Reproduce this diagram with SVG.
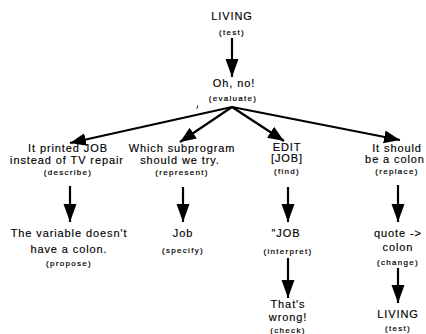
<svg xmlns="http://www.w3.org/2000/svg" width="426" height="334" viewBox="0 0 426 334">
  <style>
    .t { font-family: "Liberation Sans", Arial, sans-serif; font-size: 11px; letter-spacing: 0.9px; fill: #000; stroke: #000; stroke-width: 0.15; text-anchor: middle; }
    .s { font-family: "Liberation Sans", Arial, sans-serif; font-size: 8px; letter-spacing: 1.3px; fill: #000; stroke: #000; stroke-width: 0.2; text-anchor: middle; }
    .e { fill: none; stroke: #000; stroke-width: 2.2; marker-end: url(#head); }
    .v { fill: none; stroke: #000; stroke-width: 2.2; marker-end: url(#vhead); }
  </style>
  <defs>
    <!-- head for the slanted branches -->
    <marker id="head" markerUnits="userSpaceOnUse" markerWidth="18" markerHeight="14" refX="16" refY="6.5" orient="auto">
      <path d="M0,0 L16,6.5 L0,13 Z" fill="#000"/>
    </marker>
    <!-- longer head for the vertical steps -->
    <marker id="vhead" markerUnits="userSpaceOnUse" markerWidth="20" markerHeight="14" refX="18" refY="6.5" orient="auto">
      <path d="M0,0 L18,6.5 L0,13 Z" fill="#000"/>
    </marker>
  </defs>
  <rect width="426" height="334" fill="#fff"/>

  <g id="connectors">
    <line class="v" x1="232" y1="38" x2="232" y2="77"/>
    <line class="e" x1="232" y1="107" x2="70" y2="143"/>
    <line class="e" x1="232" y1="107" x2="180" y2="142"/>
    <line class="e" x1="232" y1="107" x2="284" y2="141"/>
    <line class="e" x1="232" y1="107" x2="400" y2="140"/>
    <line class="v" x1="70" y1="186" x2="70" y2="222"/>
    <line class="v" x1="183" y1="187" x2="183" y2="222"/>
    <line class="v" x1="288" y1="187" x2="288" y2="222"/>
    <line class="v" x1="398" y1="185" x2="398" y2="222"/>
    <line class="v" x1="288" y1="258" x2="288" y2="298"/>
    <line class="v" x1="398" y1="268" x2="398" y2="303"/>
  </g>

  <!-- small speck left of the hub -->
  <path d="M197.5,105.5 q1,1 -0.8,3" fill="none" stroke="#000" stroke-width="1"/>

  <g id="living-top">
    <text class="t" x="232" y="20">LIVING</text>
    <text class="s" x="232" y="35">(test)</text>
  </g>
  <g id="oh-no">
    <text class="t" x="234" y="87">Oh, no!</text>
    <text class="s" x="233" y="101">(evaluate)</text>
  </g>

  <g id="describe">
    <text class="t" x="68" y="152">It printed JOB</text>
    <text class="t" x="67" y="164">instead of TV repair</text>
    <text class="s" x="68" y="175">(describe)</text>
  </g>
  <g id="represent">
    <text class="t" x="182" y="152">Which subprogram</text>
    <text class="t" x="180" y="164">should we try.</text>
    <text class="s" x="182" y="175">(represent)</text>
  </g>
  <g id="find">
    <text class="t" x="287" y="151">EDIT</text>
    <text class="t" x="287" y="162">[JOB]</text>
    <text class="s" x="287" y="174">(find)</text>
  </g>
  <g id="replace">
    <text class="t" x="397" y="152">It should</text>
    <text class="t" x="395" y="163">be a colon</text>
    <text class="s" x="397" y="174">(replace)</text>
  </g>

  <g id="propose">
    <text class="t" x="69" y="237">The variable doesn't</text>
    <text class="t" x="69" y="253">have a colon.</text>
    <text class="s" x="69" y="266">(propose)</text>
  </g>
  <g id="specify">
    <text class="t" x="183" y="237">Job</text>
    <text class="s" x="183" y="253">(specify)</text>
  </g>
  <g id="interpret">
    <text class="t" x="286" y="237">"JOB</text>
    <text class="s" x="288" y="254">(interpret)</text>
  </g>
  <g id="change">
    <text class="t" x="398" y="237">quote -&gt;</text>
    <text class="t" x="398" y="251">colon</text>
    <text class="s" x="398" y="265">(change)</text>
  </g>

  <g id="check">
    <text class="t" x="288" y="308">That's</text>
    <text class="t" x="288" y="321">wrong!</text>
    <text class="s" x="288" y="333">(check)</text>
  </g>
  <g id="living-bottom">
    <text class="t" x="398" y="318">LIVING</text>
    <text class="s" x="398" y="331">(test)</text>
  </g>
</svg>
